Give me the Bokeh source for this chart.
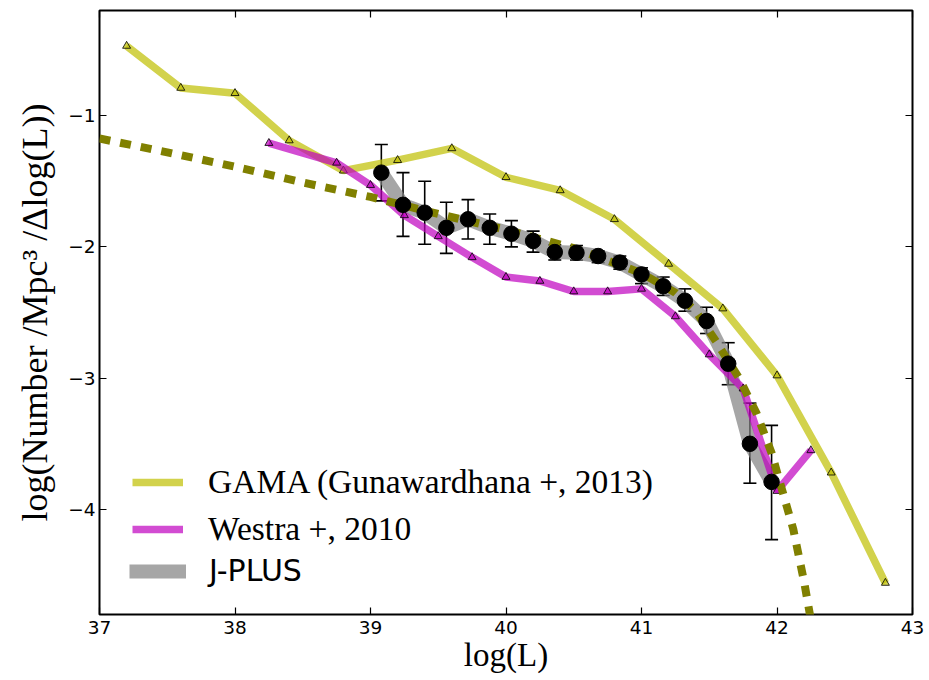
from bokeh.plotting import figure
from bokeh.models import (Range1d, FixedTicker, LinearAxis, Legend, LegendItem,
                          ColumnDataSource, Whisker, TeeHead, CustomLabelingPolicy)
from bokeh.embed import file_html
from bokeh.resources import INLINE

# GAMA (Gunawardhana+, 2013) H-alpha luminosity function
gama_logl = [37.2, 37.6, 38.0, 38.4, 38.8, 39.2, 39.6, 40.0, 40.4, 40.8,
             41.2, 41.6, 42.0, 42.4, 42.8]
gama_phi = [-0.47, -0.79, -0.83, -1.19, -1.42, -1.34, -1.25, -1.47, -1.57, -1.79,
            -2.13, -2.47, -2.98, -3.72, -4.56]

# Westra+, 2010
westra_logl = [38.25, 38.75, 39.0, 39.25, 39.5, 39.75, 40.0, 40.25, 40.5, 40.75,
               41.0, 41.25, 41.5, 41.75, 42.0, 42.25]
westra_phi = [-1.21, -1.36, -1.53, -1.76, -1.92, -2.08, -2.23, -2.26, -2.34, -2.34,
              -2.32, -2.53, -2.82, -3.08, -3.86, -3.55]

# J-PLUS measurement with its error range
jplus_logl = [39.08, 39.24, 39.40, 39.56, 39.72, 39.88, 40.04, 40.20, 40.36, 40.52,
              40.68, 40.84, 41.00, 41.16, 41.32, 41.48, 41.64, 41.80, 41.96]
jplus_phi = [-1.435, -1.68, -1.74, -1.855, -1.79, -1.855, -1.90, -1.955, -2.04, -2.045,
             -2.07, -2.12, -2.21, -2.30, -2.41, -2.565, -2.89, -3.50, -3.79]
jplus_upper = [-1.22, -1.435, -1.50, -1.66, -1.64, -1.75, -1.80, -1.88, -1.985, -1.99,
               -2.03, -2.07, -2.16, -2.23, -2.32, -2.46, -2.73, -3.19, -3.36]
jplus_lower = [-1.65, -1.92, -1.98, -2.05, -1.94, -1.98, -2.00, -2.04, -2.10, -2.10,
               -2.12, -2.17, -2.28, -2.37, -2.49, -2.66, -3.05, -3.80, -4.23]

# Schechter fit curve
fit_logl = [37.0, 37.5, 38.0, 38.5, 39.0, 39.5, 40.0, 40.5, 41.0, 41.25, 41.4,
            41.55, 41.72, 41.85, 41.96, 42.04, 42.12, 42.2, 42.26]
fit_phi = [-1.175, -1.28, -1.39, -1.51, -1.62, -1.75, -1.87, -2.01, -2.20, -2.35, -2.49,
           -2.72, -3.0, -3.27, -3.57, -3.86, -4.15, -4.55, -4.9]

x_ticks = [37, 38, 39, 40, 41, 42, 43]
y_ticks = [-4, -3, -2, -1]
y_tick_labels = ["\u22124", "\u22123", "\u22122", "\u22121"]

GAMA_COLOR = "#bfbf00"
WESTRA_COLOR = "#bf00bf"
FIT_COLOR = "#808000"
BAND_COLOR = "#808080"

SERIF = "Liberation Serif"
SANS = "DejaVu Sans"

p = figure(width=929, height=680, x_range=Range1d(37, 43), y_range=Range1d(-4.8, -0.2),
           output_backend="svg", toolbar_location=None,
           min_border_left=99, min_border_right=17, min_border_top=10, min_border_bottom=66)
p.background_fill_color = "white"
p.border_fill_color = "white"
p.xgrid.visible = False
p.ygrid.visible = False
p.outline_line_color = "black"
p.outline_line_width = 2
p.outline_line_alpha = 1.0

# the mirrored axes only carry tick marks, never labels
no_labels = CustomLabelingPolicy(code="return new Set()")


def style_axis(ax, ticks, overrides=None, show_labels=True, standoff=4):
    ax.ticker = FixedTicker(ticks=ticks)
    ax.axis_line_color = None
    ax.major_tick_in = 7
    ax.major_tick_out = 0
    ax.major_tick_line_color = "black"
    ax.major_tick_line_width = 1.2
    ax.minor_tick_line_color = None
    if overrides:
        ax.major_label_overrides = overrides
    if show_labels:
        ax.major_label_text_font = SANS
        ax.major_label_text_font_size = "18.5px"
        ax.major_label_text_color = "black"
        ax.major_label_standoff = standoff
    else:
        ax.major_label_policy = no_labels
        ax.major_label_text_font_size = "1px"
        ax.major_label_standoff = 0


style_axis(p.xaxis[0], x_ticks, standoff=6)
style_axis(p.yaxis[0], y_ticks, dict(zip(y_ticks, y_tick_labels)), standoff=4)

p.xaxis[0].axis_label = "log(L)"
p.yaxis[0].axis_label = "log(Number /Mpc\u00b3 /\u0394log(L))"
for ax in (p.xaxis[0], p.yaxis[0]):
    ax.axis_label_text_font = SERIF
    ax.axis_label_text_font_style = "normal"
    ax.axis_label_text_color = "black"
p.xaxis[0].axis_label_text_font_size = "33px"
p.yaxis[0].axis_label_text_font_size = "36px"
p.xaxis[0].axis_label_standoff = 0
p.yaxis[0].axis_label_standoff = 10

top_axis = LinearAxis()
style_axis(top_axis, x_ticks, show_labels=False)
p.add_layout(top_axis, "above")
right_axis = LinearAxis()
style_axis(right_axis, y_ticks, show_labels=False)
p.add_layout(right_axis, "right")

# J-PLUS band underneath everything else
band = p.line(jplus_logl, jplus_phi, line_color=BAND_COLOR, line_alpha=0.7,
              line_width=14, line_join="round")

# error bars
err_src = ColumnDataSource(dict(x=jplus_logl, upper=jplus_upper, lower=jplus_lower))
whisk = Whisker(base="x", upper="upper", lower="lower", source=err_src, dimension="height",
                line_color="black", line_width=1.6,
                upper_head=TeeHead(size=13, line_color="black", line_width=1.6),
                lower_head=TeeHead(size=13, line_color="black", line_width=1.6))
p.add_layout(whisk)

gama_line = p.line(gama_logl, gama_phi, line_color=GAMA_COLOR, line_alpha=0.7,
                   line_width=7.5)
p.scatter(gama_logl, gama_phi, marker="triangle", size=8, fill_color=GAMA_COLOR,
          fill_alpha=0.7, line_color="black", line_alpha=0.8, line_width=1)

westra_line = p.line(westra_logl, westra_phi, line_color=WESTRA_COLOR, line_alpha=0.7,
                     line_width=7.5)
p.scatter(westra_logl, westra_phi, marker="triangle", size=8, fill_color=WESTRA_COLOR,
          fill_alpha=0.7, line_color="black", line_alpha=0.8, line_width=1)

p.line(fit_logl, fit_phi, line_color=FIT_COLOR, line_width=8, line_dash="11 10",
       line_cap="butt")

p.scatter(jplus_logl, jplus_phi, marker="circle", size=15.5, fill_color="black",
          line_color="black")

# legend: one block per entry so the fonts can differ
leg_common = dict(border_line_alpha=0, background_fill_alpha=0, padding=0, margin=0,
                  glyph_height=30, label_height=30, label_text_color="black")
leg_gama = Legend(items=[LegendItem(label="GAMA (Gunawardhana +, 2013)", renderers=[gama_line])],
                  location=(33, 113), glyph_width=51, label_standoff=25,
                  label_text_font=SERIF, label_text_font_size="33.5px", **leg_common)
leg_westra = Legend(items=[LegendItem(label="Westra +, 2010", renderers=[westra_line])],
                    location=(33, 66), glyph_width=51, label_standoff=25,
                    label_text_font=SERIF, label_text_font_size="33.5px", **leg_common)
leg_jplus = Legend(items=[LegendItem(label="J-PLUS", renderers=[band])],
                   location=(30, 26), glyph_width=57, label_standoff=23,
                   label_text_font=SANS, label_text_font_size="30px", **leg_common)
for lg in (leg_gama, leg_westra, leg_jplus):
    p.add_layout(lg)

open("out.html", "w").write(file_html(p, INLINE))
